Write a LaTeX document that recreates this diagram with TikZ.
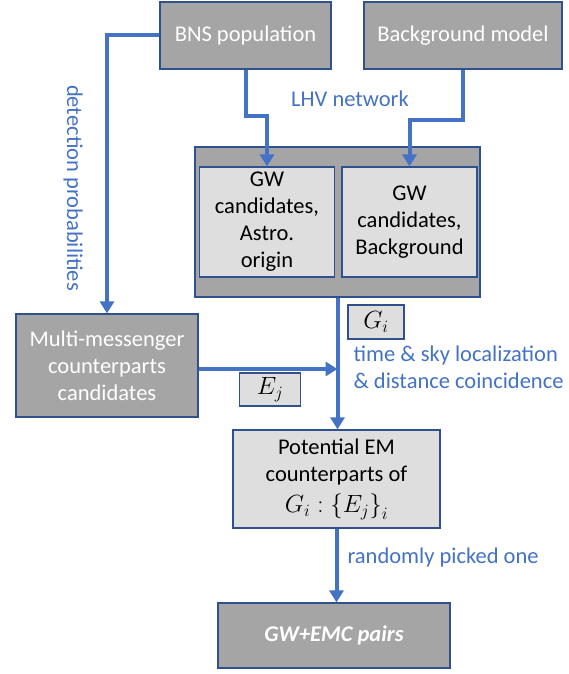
\documentclass[tikz,border=0pt]{standalone}
\usepackage{fontspec}
\setmainfont{Carlito}
\usetikzlibrary{arrows.meta,calc}
\definecolor{lineblue}{HTML}{4472C4}
\definecolor{edgeblue}{HTML}{2F528F}
\definecolor{boxgray}{HTML}{A5A5A5}
\definecolor{lightgray}{HTML}{DEDEDE}
\begin{document}
\begin{tikzpicture}[x=1pt,y=-1pt,
  txt/.style={font=\fontsize{22.5}{27}\selectfont},
  mathtxt/.style={font=\fontsize{27}{30}\selectfont},
  darkbox/.style={txt,draw=edgeblue,line width=1.2pt,fill=boxgray,text=white,align=center,inner sep=0pt},
  lightbox/.style={txt,draw=edgeblue,line width=1.2pt,fill=lightgray,text=black,align=center,inner sep=0pt},
  conn/.style={draw=lineblue,line width=4pt,-{Triangle[length=12pt,width=14pt]}},
  bluetxt/.style={txt,text=lineblue}]
\useasboundingbox (0,0) rectangle (569,674);
% top boxes
\node[darkbox,minimum width=171pt,minimum height=67pt] (bns) at (245.5,35.5) {BNS population};
\node[darkbox,minimum width=198pt,minimum height=67pt] (bgm) at (463,35.5) {Background model};
% GW candidates group
\node[darkbox,minimum width=285pt,minimum height=150pt] (outer) at (337.5,222) {};
\node[lightbox,minimum width=135pt,minimum height=110pt] (astro) at (267,222) {GW\\candidates,\\Astro.\\origin};
\node[lightbox,minimum width=135pt,minimum height=110pt] (bgr) at (409.5,222) {GW\\candidates,\\Background};
% multi-messenger
\node[darkbox,minimum width=182pt,minimum height=103pt] (mm) at (107,365.5) {Multi-messenger\\counterparts\\candidates};
% small label boxes
\node[lightbox,mathtxt,minimum width=56pt,minimum height=34pt] (gi) at (376,322) {$G_i$};
\node[lightbox,mathtxt,minimum width=61pt,minimum height=33pt] (ej) at (270,389.5) {$E_j$};
% potential EM
\node[lightbox,minimum width=207pt,minimum height=98pt] (pem) at (336.5,479) {Potential EM\\counterparts of\\[4pt]{\fontsize{27}{30}\selectfont$G_i:\bigl\{E_j\bigr\}_i$}};
% result
\node[darkbox,minimum width=232pt,minimum height=65pt,font=\fontsize{22.5}{27}\selectfont\bfseries\itshape] (pair) at (334,635.5) {GW+EMC pairs};
% helper coordinates
\coordinate (k1) at (0,116);
\coordinate (k2) at (0,120);
\coordinate (k3) at (0,369);
% connectors
\draw[conn] (bns.west) -| (mm.north);
\draw[conn] (bns.south) -- (bns.south |- k1) -| (astro.north);
\draw[conn] (bgm.south) -- (bgm.south |- k2) -| (bgr.north);
\draw[conn] (outer.south) -- (outer.south |- pem.north);
\draw[conn] (mm.east |- k3) -- (outer.south |- k3);
\draw[conn] (pem.south) -- (pem.south |- pair.north);
% labels
\node[bluetxt] (lhv) at (350,99) {LHV network};
\node[bluetxt,rotate=-90] (det) at (73,188) {detection probabilities};
\node[bluetxt,anchor=west] (tsl) at (350,355) {time \& sky localization};
\node[bluetxt,anchor=west] (dc) at (350,381) {\& distance coincidence};
\node[bluetxt,anchor=west] (rpo) at (344,557) {randomly picked one};
\end{tikzpicture}
\end{document}
